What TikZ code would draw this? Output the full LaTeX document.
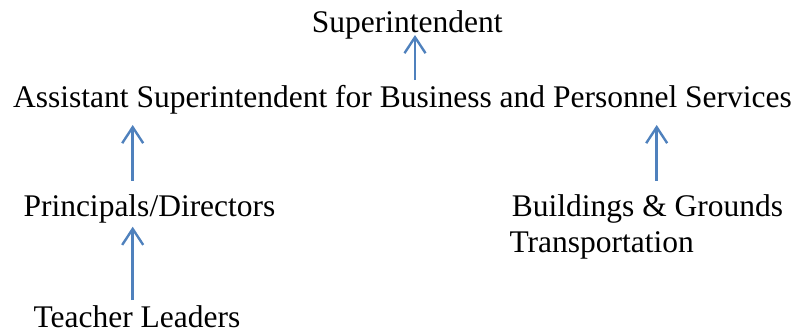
\documentclass[tikz,border=0pt]{standalone}
\usepackage{fontspec}
\setmainfont{Liberation Serif}
\usetikzlibrary{arrows.meta}
\definecolor{arrowblue}{HTML}{4F81BD}
\begin{document}
\begin{tikzpicture}[x=1pt,y=1pt,
  lbl/.style={inner sep=0pt,anchor=base west,font=\fontsize{31.5}{36}\selectfont},
  arr/.style={draw=arrowblue,line width=2.6pt,-{Straight Barb[length=16pt,width=21pt,line width=2.4pt]}}]
\useasboundingbox (0,0) rectangle (803,333);
\node[lbl] (sup) at (311.7,300.3) {Superintendent};
\node[lbl] (asst) at (13,226) {Assistant Superintendent for Business and Personnel Services};
\node[lbl] (prin) at (23.3,116.7) {Principals/Directors};
\node[lbl] (teach) at (33.3,5.5) {Teacher Leaders};
\node[lbl] (bld) at (511.7,116.5) {Buildings \& Grounds};
\node[lbl] (trans) at (509.3,80.5) {Transportation};
\coordinate (a1s) at (415,253);
\coordinate (a1e) at (415,298);
\coordinate (a2s) at (132.7,152.3);
\coordinate (a2e) at (132.7,208);
\coordinate (a3s) at (132.7,33);
\coordinate (a3e) at (132.7,106.3);
\coordinate (a4s) at (656.7,152.3);
\coordinate (a4e) at (656.7,208);
\draw[arr] (a1s) -- (a1e);
\draw[arr] (a2s) -- (a2e);
\draw[arr] (a3s) -- (a3e);
\draw[arr] (a4s) -- (a4e);
\end{tikzpicture}
\end{document}
